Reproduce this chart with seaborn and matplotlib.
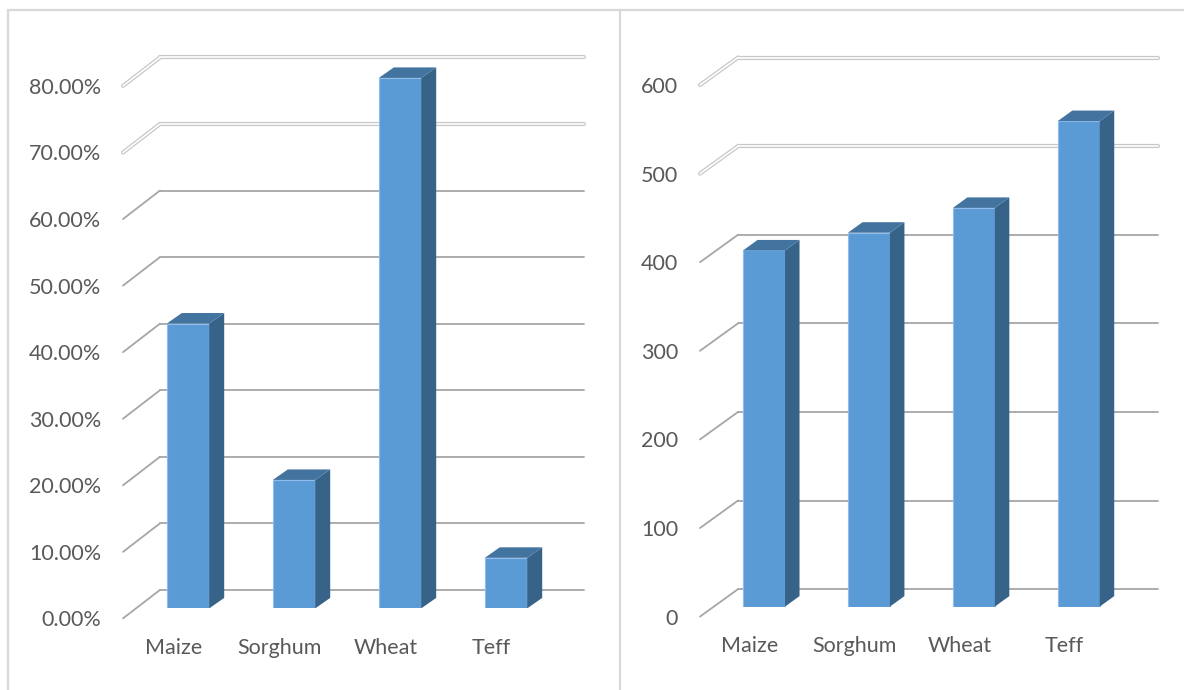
import matplotlib
matplotlib.use("Agg")
import matplotlib.pyplot as plt
from matplotlib.transforms import ScaledTranslation
from matplotlib.patches import Polygon
from matplotlib.lines import Line2D
import pandas as pd
import seaborn as sns

# ---- data -------------------------------------------------------------
crops = ["Maize", "Sorghum", "Wheat", "Teff"]

share_values = [0.428, 0.193, 0.797, 0.076]
share_ticks = [0.0, 0.1, 0.2, 0.3, 0.4, 0.5, 0.6, 0.7, 0.8]
share_labels = [f"{t * 100:.2f}%" for t in share_ticks]

yield_values = [402, 422, 450, 548]
yield_ticks = [0, 100, 200, 300, 400, 500, 600]
yield_labels = [str(t) for t in yield_ticks]

# ---- style --------------------------------------------------------------
W, H, DPI = 1184, 690, 100
FRONT = "#5B9BD5"
SIDE = "#386388"
TOP = "#43739F"
EDGE = "#8FBCE8"
GRID = "#A6A6A6"
TEXT = "#595959"
FRAME = "#D9D9D9"
FONT_SIZE = 15.5

sns.set_style("white")
plt.rcParams["font.family"] = ["Lato", "DejaVu Sans"]

fig = plt.figure(figsize=(W / DPI, H / DPI), dpi=DPI)


def add_axes_px(left, right, bottom, top):
    """Axes placed by pixel edges (top-left origin)."""
    return fig.add_axes([left / W, 1 - bottom / H, (right - left) / W, (bottom - top) / H])


def draw_panel(ax, values, ticks, labels, ylim, back, front, depth):
    df = pd.DataFrame({"crop": crops, "value": values})
    sns.barplot(data=df, x="crop", y="value", color=FRONT, saturation=1,
                width=0.4, errorbar=None, ax=ax, edgecolor=EDGE,
                linewidth=0.8, zorder=3)
    ax.set_xlim(-0.5, 3.5)
    ax.set_ylim(*ylim)
    ax.set_xlabel("")
    ax.set_ylabel("")
    ax.set_facecolor("none")
    sns.despine(ax=ax, left=True, bottom=True)

    # pixel -> data conversion for the oblique depth offsets
    pos = ax.get_position()
    ux = (3.5 - -0.5) / (pos.width * W)
    uy = (ylim[1] - ylim[0]) / (pos.height * H)
    bx, by = back[0] * ux, back[1] * uy
    fx, fy = front[0] * ux, front[1] * uy
    dx, dy = depth[0] * ux, depth[1] * uy

    # back wall gridlines and the floor-side diagonals
    for t in ticks:
        gx = [-0.5 + bx, 3.5 + bx]
        gy = [t + by, t + by]
        sx = [-0.5 + fx, -0.5 + bx]
        sy = [t + fy, t + by]
        if t >= ticks[-2]:
            for xs, ys in ((gx, gy), (sx, sy)):
                ax.plot(xs, ys, color="#C8C8C8", lw=3.0, solid_capstyle="round",
                        zorder=1, clip_on=False)
                ax.plot(xs, ys, color="white", lw=1.2, solid_capstyle="round",
                        zorder=1.1, clip_on=False)
        else:
            ax.plot(gx, gy, color=GRID, lw=1.3, zorder=1, clip_on=False)
            ax.plot(sx, sy, color=GRID, lw=1.3, zorder=1, clip_on=False)

    # side and top faces of each column
    for p in list(ax.patches):
        x0 = p.get_x()
        x1 = x0 + p.get_width()
        h = p.get_height()
        side = Polygon([(x1, 0), (x1 + dx, dy), (x1 + dx, h + dy), (x1, h)],
                       closed=True, facecolor=SIDE, edgecolor="none", zorder=3)
        top = Polygon([(x0, h), (x1, h), (x1 + dx, h + dy), (x0 + dx, h + dy)],
                      closed=True, facecolor=TOP, edgecolor="none", zorder=3)
        ax.add_patch(side)
        ax.add_patch(top)

    # value axis labels sit at the front edge of the floor
    ax.set_yticks(ticks)
    ax.set_yticklabels(labels)
    ax.tick_params(axis="y", length=0, pad=(-front[0] + 22) * 0.72,
                   labelsize=FONT_SIZE, labelcolor=TEXT)
    shift_y = ScaledTranslation(0, front[1] / DPI, fig.dpi_scale_trans)
    for lab in ax.get_yticklabels():
        lab.set_transform(lab.get_transform() + shift_y)

    ax.set_xticks(range(len(crops)))
    ax.set_xticklabels(crops)
    ax.tick_params(axis="x", length=0, pad=21, labelsize=FONT_SIZE,
                   labelcolor=TEXT)
    shift_x = ScaledTranslation(-14.5 / DPI, 0, fig.dpi_scale_trans)
    for lab in ax.get_xticklabels():
        lab.set_transform(lab.get_transform() + shift_x)
    ax.grid(False)


# left panel: share of households
ax_left = add_axes_px(135, 559, 608.4, 608.4 - 0.85 * 665.6)
draw_panel(ax_left, share_values, share_ticks, share_labels, (0, 0.85),
           back=(25, 18.5), front=(-12, -10), depth=(15, 10.5))

# right panel: quantities
ax_right = add_axes_px(711.6, 1131.2, 606.6, 606.6 - 640 * 0.886)
draw_panel(ax_right, yield_values, yield_ticks, yield_labels, (0, 640),
           back=(26.5, 17.5), front=(-11.6, -10), depth=(14.5, 10.5))

# outer frame and panel divider
fig.add_artist(Line2D([8 / W, 1], [1 - 10 / H, 1 - 10 / H],
                      transform=fig.transFigure, color=FRAME, lw=1.6))
for xp in (8, 620):
    fig.add_artist(Line2D([xp / W, xp / W], [0, 1 - 10 / H],
                          transform=fig.transFigure, color=FRAME, lw=1.6))

fig.savefig("out.png", dpi=DPI)
